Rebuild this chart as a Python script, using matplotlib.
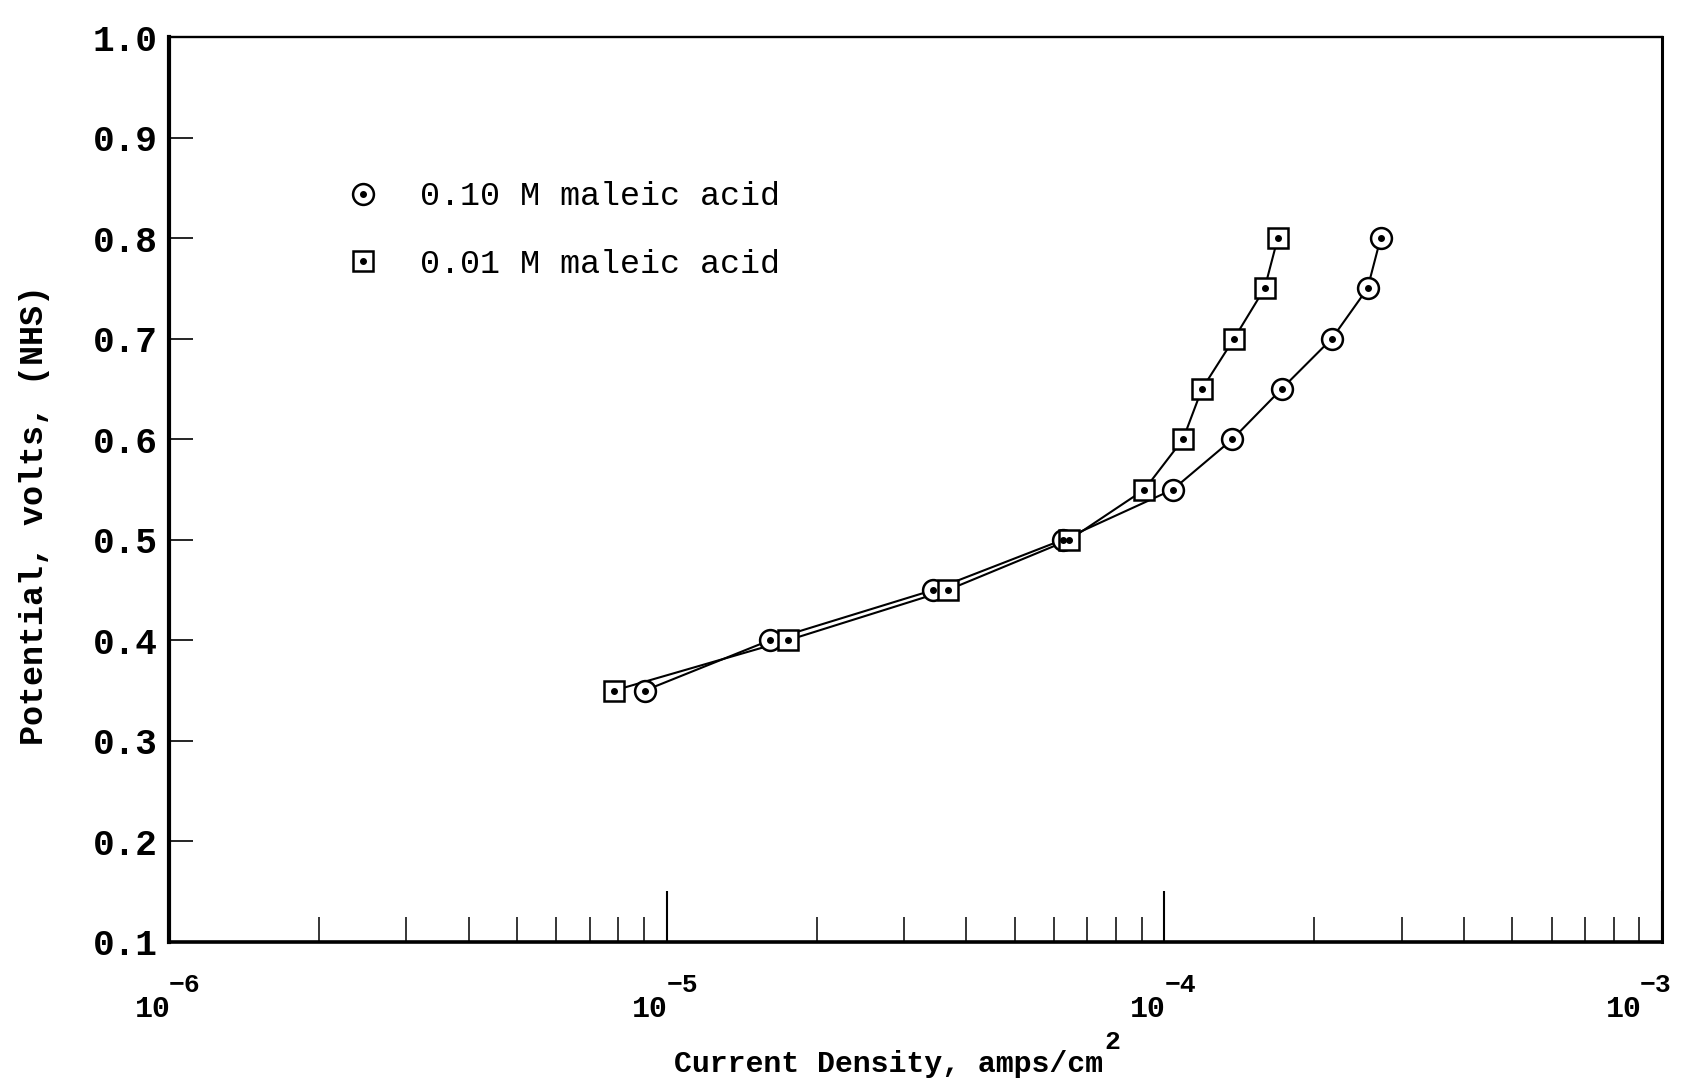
import matplotlib
matplotlib.use("Agg")
import matplotlib.pyplot as plt
from matplotlib.lines import Line2D
from matplotlib.legend_handler import HandlerTuple
from matplotlib.ticker import LogLocator, NullFormatter, FixedLocator

# ------------------------------------------------------------------
# Data (potential vs current density)
# ------------------------------------------------------------------
potential = [0.35, 0.40, 0.45, 0.50, 0.55, 0.60, 0.65, 0.70, 0.75, 0.80]
current_010M = [9.03e-6, 1.61e-5, 3.43e-5, 6.25e-5, 1.04e-4,
                1.37e-4, 1.72e-4, 2.17e-4, 2.56e-4, 2.72e-4]
current_001M = [7.83e-6, 1.75e-5, 3.67e-5, 6.44e-5, 9.12e-5,
                1.09e-4, 1.19e-4, 1.38e-4, 1.59e-4, 1.69e-4]
labels = ["0.10 M maleic acid", "0.01 M maleic acid"]
y_ticks = [0.1, 0.2, 0.3, 0.4, 0.5, 0.6, 0.7, 0.8, 0.9, 1.0]
x_decades = [-6, -5, -4, -3]

MONO = "Liberation Mono"

fig = plt.figure(figsize=(16.87, 10.83), dpi=100)
ax = fig.add_axes([0.1002, 0.1302, 0.885, 0.8356])

# curves first, markers on top (white face hides line under marker)
for cur, mk, ms in [(current_010M, "o", 15), (current_001M, "s", 14)]:
    ax.plot(cur, potential, "-", color="black", lw=1.5, zorder=2)
    ax.plot(cur, potential, ls="none", marker=mk, ms=ms, mfc="white",
            mec="black", mew=1.8, zorder=3)
    ax.plot(cur, potential, ls="none", marker="o", ms=4, color="black",
            zorder=4)

ax.set_xscale("log")
ax.set_xlim(1e-6, 1e-3)
ax.set_ylim(0.1, 1.0)

# y axis
ax.yaxis.set_major_locator(FixedLocator(y_ticks))
ax.set_yticklabels([f"{v:.1f}" for v in y_ticks], fontfamily=MONO,
                   fontweight="bold", fontsize=26)
ax.tick_params(axis="y", direction="in", length=17, width=1.2, pad=8,
               right=False)

# x axis: long ticks at decades, short ticks in between
ax.xaxis.set_major_locator(LogLocator(base=10, numticks=10))
ax.xaxis.set_minor_locator(LogLocator(base=10, subs=range(2, 10), numticks=20))
ax.xaxis.set_major_formatter(NullFormatter())
ax.xaxis.set_minor_formatter(NullFormatter())
ax.tick_params(axis="x", which="major", direction="in", length=37, width=1.5,
               top=False)
ax.tick_params(axis="x", which="minor", direction="in", length=18, width=1.1,
               top=False)

# decade labels 10^n drawn as base + raised exponent (typewriter style)
xtrans = ax.get_xaxis_transform()
for e in x_decades:
    dx = -16 if e == x_decades[-1] else 0   # last one pulled inside the page
    ax.annotate("10", xy=(10.0 ** e, 0), xycoords=xtrans,
                xytext=(1 + dx, -38), textcoords="offset points",
                ha="right", va="top", fontfamily=MONO, fontweight="bold",
                fontsize=21.5, annotation_clip=False)
    ax.annotate(f"\u2212{-e}", xy=(10.0 ** e, 0), xycoords=xtrans,
                xytext=(dx, -22), textcoords="offset points",
                ha="left", va="top", fontfamily=MONO, fontweight="bold",
                fontsize=19, annotation_clip=False)

for side, lw in [("left", 3.0), ("bottom", 2.6), ("top", 1.7), ("right", 2.2)]:
    ax.spines[side].set_linewidth(lw)

ax.set_ylabel("Potential, volts, (NHS)", fontfamily=MONO, fontweight="bold",
              fontsize=24)
ax.yaxis.set_label_coords(-0.0795, 0.472)
xl = ax.set_xlabel("Current Density, amps/cm", fontfamily=MONO,
                   fontweight="bold", fontsize=21.5)
ax.xaxis.set_label_coords(0.482, -0.119)
ax.annotate("2", xy=(1, 0.85), xycoords=xl, xytext=(1, 0),
            textcoords="offset points", ha="left", va="bottom",
            fontfamily=MONO, fontweight="bold", fontsize=19)

# legend: hollow marker with centre dot
h_circ = (Line2D([], [], ls="none", marker="o", ms=15, mfc="white", mec="black", mew=1.8),
          Line2D([], [], ls="none", marker="o", ms=4, color="black"))
h_sq = (Line2D([], [], ls="none", marker="s", ms=14, mfc="white", mec="black", mew=1.8),
        Line2D([], [], ls="none", marker="o", ms=4, color="black"))
ax.legend([h_circ, h_sq], labels, handler_map={tuple: HandlerTuple(ndivide=1)},
          loc="upper left", bbox_to_anchor=(0.119, 0.8405), frameon=False,
          borderpad=0, borderaxespad=0, handlelength=1.0, handletextpad=1.2,
          labelspacing=1.1, prop={"family": MONO, "size": 24})

fig.savefig("out.png", dpi=100)
